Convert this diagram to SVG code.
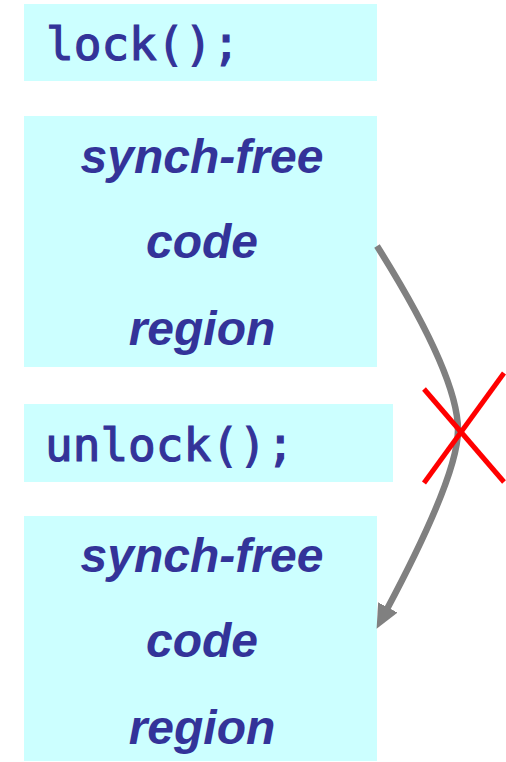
<svg xmlns="http://www.w3.org/2000/svg" width="506" height="762" viewBox="0 0 506 762">
  <style>
    .box { fill: #ccffff; }
    .mono { font-family: "DejaVu Sans Mono", "Liberation Mono", monospace; font-size: 46px; fill: #333399; stroke: #333399; stroke-width: 1.2; }
    .ital { font-family: "Liberation Sans", Arial, sans-serif; font-size: 48px; font-weight: bold; font-style: italic; fill: #333399; text-anchor: middle; }
    .flow { fill: none; stroke: #808080; stroke-width: 6.5; }
    .cross { stroke: #ff0000; stroke-width: 5; }
  </style>
  <defs>
    <marker id="arrowhead" markerUnits="userSpaceOnUse" viewBox="0 0 24 22" refX="4" refY="11" markerWidth="24" markerHeight="22" orient="auto">
      <path d="M0,0 L24,11 L0,22 z" fill="#808080"/>
    </marker>
  </defs>

  <g id="lock">
    <rect class="box" x="24" y="4" width="353" height="77"/>
    <text class="mono" x="46" y="60">lock();</text>
  </g>

  <g id="region1">
    <rect class="box" x="24" y="116" width="353" height="251"/>
    <text class="ital" x="202" y="173">synch-free</text>
    <text class="ital" x="202" y="258">code</text>
    <text class="ital" x="202" y="345">region</text>
  </g>

  <g id="unlock">
    <rect class="box" x="24" y="404" width="369" height="78"/>
    <text class="mono" x="45" y="461">unlock();</text>
  </g>

  <g id="region2">
    <rect class="box" x="24" y="516" width="353" height="245"/>
    <text class="ital" x="202" y="572">synch-free</text>
    <text class="ital" x="202" y="657">code</text>
    <text class="ital" x="202" y="744">region</text>
  </g>

  <g id="connectors">
    <path class="flow" d="M377,246 Q458,375 458,430 Q458,476 386,611" marker-end="url(#arrowhead)"/>
    <line class="cross" x1="424" y1="389" x2="504" y2="482"/>
    <line class="cross" x1="424" y1="483" x2="504" y2="373"/>
  </g>
</svg>
